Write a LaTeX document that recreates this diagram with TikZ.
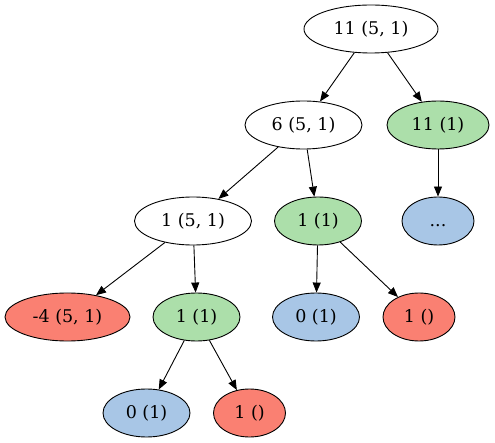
\documentclass[tikz,border=0pt]{standalone}
\usepackage{fontspec}
\setmainfont{DejaVu Serif}
\usetikzlibrary{shapes.geometric, arrows.meta}
\definecolor{LeafGreen}{RGB}{172,223,170}
\definecolor{LeafBlue}{RGB}{168,198,230}
\definecolor{LeafSalmon}{RGB}{250,128,114}
\tikzset{
  tnode/.style={ellipse, draw=black, line width=0.9pt, inner sep=0pt, minimum height=48pt,
    font=\fontsize{17.5}{20}\selectfont},
  tedge/.style={line width=0.9pt, -{Triangle[length=10pt, width=8pt]}}
}

\begin{document}
\begin{tikzpicture}[x=1pt, y=-1pt]
  \useasboundingbox (0,0) rectangle (495,443);
  % rank 0
  \node[tnode, minimum width=134pt] (root) at (371,29) {11 (5, 1)};
  % rank 1
  \node[tnode, minimum width=117pt] (six) at (303.5,125) {6 (5, 1)};
  \node[tnode, fill=LeafGreen, minimum width=102pt] (elevenA) at (438,125) {11 (1)};
  % rank 2
  \node[tnode, minimum width=117pt] (oneC) at (193,221) {1 (5, 1)};
  \node[tnode, fill=LeafGreen, minimum width=87pt] (oneA) at (318,221) {1 (1)};
  \node[tnode, fill=LeafBlue, minimum width=72pt] (dots) at (438,221) {\vphantom{(}.{}.{}.};
  % rank 3
  \node[tnode, fill=LeafSalmon, minimum width=125pt] (minusfour) at (67.5,317) {-4 (5, 1)};
  \node[tnode, fill=LeafGreen, minimum width=87pt] (oneB) at (196.5,317) {1 (1)};
  \node[tnode, fill=LeafBlue, minimum width=87pt] (zeroA) at (316,317) {0 (1)};
  \node[tnode, fill=LeafSalmon, minimum width=72pt] (emptyA) at (419,317) {1 ()};
  % rank 4
  \node[tnode, fill=LeafBlue, minimum width=87pt] (zeroB) at (146.5,413) {0 (1)};
  \node[tnode, fill=LeafSalmon, minimum width=72pt] (emptyB) at (249.5,413) {1 ()};

  \draw[tedge] (root) -- (six);
  \draw[tedge] (root) -- (elevenA);
  \draw[tedge] (six) -- (oneC);
  \draw[tedge] (six) -- (oneA);
  \draw[tedge] (elevenA) -- (dots);
  \draw[tedge] (oneC) -- (minusfour);
  \draw[tedge] (oneC) -- (oneB);
  \draw[tedge] (oneA) -- (zeroA);
  \draw[tedge] (oneA) -- (emptyA);
  \draw[tedge] (oneB) -- (zeroB);
  \draw[tedge] (oneB) -- (emptyB);
\end{tikzpicture}
\end{document}
